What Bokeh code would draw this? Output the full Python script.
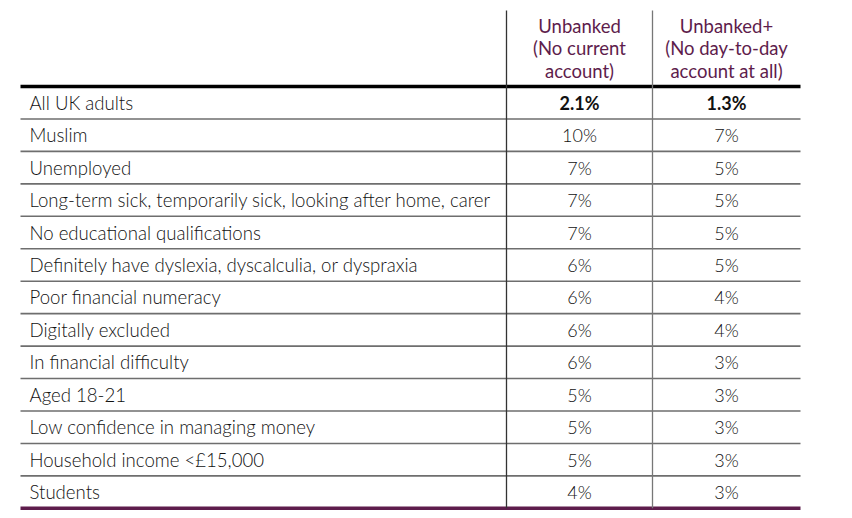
from bokeh.plotting import figure
from bokeh.models import Range1d
from bokeh.core.properties import value
from bokeh.embed import file_html
from bokeh.resources import INLINE

groups = ["All UK adults", "Muslim", "Unemployed",
          "Long-term sick, temporarily sick, looking after home, carer",
          "No educational qualifications",
          "Definitely have dyslexia, dyscalculia, or dyspraxia",
          "Poor financial numeracy", "Digitally excluded", "In financial difficulty",
          "Aged 18-21", "Low confidence in managing money",
          "Household income <£15,000", "Students"]
unbanked = ["2.1%", "10%", "7%", "7%", "7%", "6%", "6%", "6%", "6%", "5%", "5%", "5%", "4%"]
unbanked_plus = ["1.3%", "7%", "5%", "5%", "5%", "5%", "4%", "4%", "3%", "3%", "3%", "3%", "3%"]
header1 = ["Unbanked", "(No current", "account)"]
header2 = ["Unbanked+", "(No day-to-day", "account at all)"]

W, H = 844, 510
p = figure(width=W, height=H, output_backend="svg", toolbar_location=None,
           x_range=Range1d(0, W), y_range=Range1d(H, 0),
           min_border=0, outline_line_color=None)
p.axis.visible = False
p.grid.visible = False

FONT = value("'Lato Light', Lato")
BFONT = value("Lato")
PURPLE = "#5e1d4c"
x0, x1 = 20, 800
c1, c2 = 506, 652
top = 86
rh = 32.45
n = len(groups)
bottom = top + n * rh

# header
hy = [25, 47.5, 70]
for i, (a, b) in enumerate(zip(header1, header2)):
    p.text(x=[(c1 + c2) / 2], y=[hy[i]], text=[a], text_align="center", text_baseline="middle",
           text_font=BFONT, text_font_size="18.5px", text_color=PURPLE)
    p.text(x=[(c2 + x1) / 2], y=[hy[i]], text=[b], text_align="center", text_baseline="middle",
           text_font=BFONT, text_font_size="18.5px", text_color=PURPLE)

# horizontal lines
for i in range(1, n):
    y = top + i * rh
    p.segment(x0=[x0], y0=[y], x1=[x1], y1=[y], line_color="#6e6e6e", line_width=1.6)
p.segment(x0=[x0], y0=[top], x1=[x1], y1=[top], line_color="#000000", line_width=3.5)
p.segment(x0=[x0], y0=[bottom], x1=[x1], y1=[bottom], line_color=PURPLE, line_width=3.5)

# vertical lines
p.segment(x0=[c1], y0=[10], x1=[c1], y1=[bottom], line_color="#333333", line_width=1.3)
p.segment(x0=[c2], y0=[10], x1=[c2], y1=[bottom], line_color="#777777", line_width=1.3)

ys = [top + (i + 0.5) * rh for i in range(n)]
p.text(x=[29] * n, y=ys, text=groups, text_align="left", text_baseline="middle",
       text_font=FONT, text_font_size="18.6px", text_color="#111111")
for i in range(n):
    f = BFONT if i == 0 else FONT
    st = "bold" if i == 0 else "normal"
    p.text(x=[(c1 + c2) / 2], y=[ys[i]], text=[unbanked[i]], text_align="center",
           text_baseline="middle", text_font=f, text_font_size="18px",
           text_color="#111111", text_font_style=st)
    p.text(x=[(c2 + x1) / 2], y=[ys[i]], text=[unbanked_plus[i]], text_align="center",
           text_baseline="middle", text_font=f, text_font_size="18px",
           text_color="#111111", text_font_style=st)

open("out.html", "w").write(file_html(p, INLINE))
